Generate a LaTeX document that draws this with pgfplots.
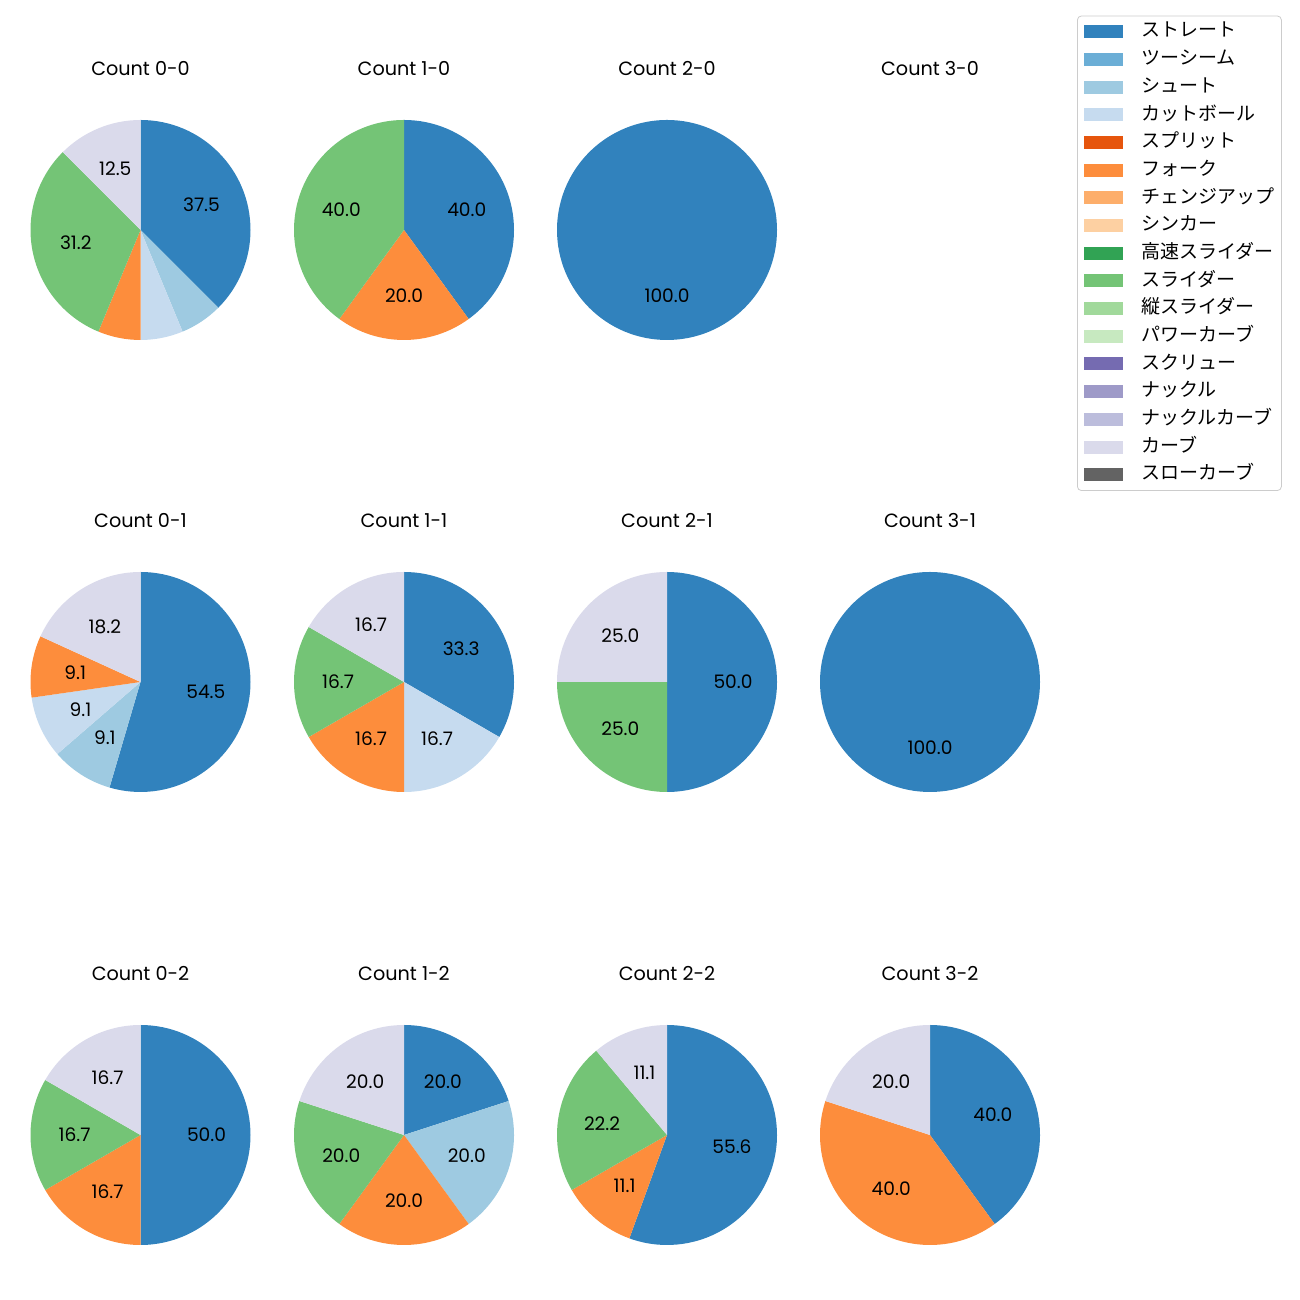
\documentclass[border=0pt]{standalone}
\usepackage{fontspec}
\setmainfont{Noto Sans CJK JP}
\newfontfamily\latinfont{Poppins}
\usepackage{pgfplots}
\pgfplotsset{compat=1.18}
\definecolor{c1}{HTML}{3182BD}
\definecolor{c2}{HTML}{6BAED6}
\definecolor{c3}{HTML}{9ECAE1}
\definecolor{c4}{HTML}{C6DBEF}
\definecolor{c5}{HTML}{E6550D}
\definecolor{c6}{HTML}{FD8D3C}
\definecolor{c7}{HTML}{FDAE6B}
\definecolor{c8}{HTML}{FDD0A2}
\definecolor{c9}{HTML}{31A354}
\definecolor{c10}{HTML}{74C476}
\definecolor{c11}{HTML}{A1D99B}
\definecolor{c12}{HTML}{C7E9C0}
\definecolor{c13}{HTML}{756BB1}
\definecolor{c14}{HTML}{9E9AC8}
\definecolor{c15}{HTML}{BCBDDC}
\definecolor{c16}{HTML}{DADAEB}
\definecolor{c17}{HTML}{636363}
\tikzset{lab/.style={font=\latinfont\fontsize{9.3}{10}\selectfont, inner sep=0pt},
  ttl/.style={font=\latinfont\fontsize{9.6}{11}\selectfont, inner sep=0pt}}
\def\nolab{n}
\newcommand\piechart[4]{%
\begin{axis}[at={(#1pt,#2pt)}, anchor=center, x=55pt, y=55pt,
  xmin=-1.2, xmax=1.2, ymin=-1.2, ymax=1.2, hide axis, clip=false, scale only axis]
\gdef\cum{0}%
\foreach \v/\c/\l in {#4}{%
 \pgfmathsetmacro\a{90-3.6*\cum}%
 \pgfmathsetmacro\b{\a-3.6*\v}%
 \pgfmathsetmacro\m{(\a+\b)/2}%
 \pgfmathsetmacro\xa{cos(\a)}%
 \pgfmathsetmacro\ya{sin(\a)}%
 \pgfmathsetmacro\xl{0.6*cos(\m)}%
 \pgfmathsetmacro\yl{0.6*sin(\m)}%
 \edef\temp{\noexpand\fill[\c] (axis cs:0,0) -- (axis cs:\xa,\ya) arc[start angle=\a, end angle=\b, radius=55pt] -- cycle;}%
 \temp
 \ifx\l\nolab\else
   \edef\temp{\noexpand\node[lab] at (axis cs:\xl,\yl) {\l};}\temp
 \fi
 \pgfmathsetmacro\nc{\cum+\v}\xdef\cum{\nc}%
}
\node[ttl] at (axis cs:0,1.4636) {#3};
\end{axis}}
\begin{document}
\begin{tikzpicture}
\useasboundingbox (0,0) rectangle (650pt,650pt);
% row 1
\piechart{70.25}{535}{Count 0-0}{37.5/c1/37.5, 6.25/c3/n, 6.25/c4/n, 6.25/c6/n, 31.25/c10/31.2, 12.5/c16/12.5}
\piechart{202}{535}{Count 1-0}{40/c1/40.0, 20/c6/20.0, 40/c10/40.0}
\piechart{333.5}{535}{Count 2-0}{100/c1/100.0}
\begin{axis}[at={(465pt,535pt)}, anchor=center, x=55pt, y=55pt,
  xmin=-1.2, xmax=1.2, ymin=-1.2, ymax=1.2, hide axis, clip=false, scale only axis]
\node[ttl] at (axis cs:0,1.4636) {Count 3-0};
\end{axis}
% row 2
\piechart{70.25}{309}{Count 0-1}{54.545/c1/54.5, 9.0909/c3/9.1, 9.0909/c4/9.1, 9.0909/c6/9.1, 18.182/c16/18.2}
\piechart{202}{309}{Count 1-1}{33.333/c1/33.3, 16.667/c4/16.7, 16.667/c6/16.7, 16.667/c10/16.7, 16.667/c16/16.7}
\piechart{333.5}{309}{Count 2-1}{50/c1/50.0, 25/c10/25.0, 25/c16/25.0}
\piechart{465}{309}{Count 3-1}{100/c1/100.0}
% row 3
\piechart{70.25}{82.5}{Count 0-2}{50/c1/50.0, 16.667/c6/16.7, 16.667/c10/16.7, 16.667/c16/16.7}
\piechart{202}{82.5}{Count 1-2}{20/c1/20.0, 20/c3/20.0, 20/c6/20.0, 20/c10/20.0, 20/c16/20.0}
\piechart{333.5}{82.5}{Count 2-2}{55.556/c1/55.6, 11.111/c6/11.1, 22.222/c10/22.2, 11.111/c16/11.1}
\piechart{465}{82.5}{Count 3-2}{40/c1/40.0, 40/c6/40.0, 20/c16/20.0}
% legend
\begin{axis}[at={(538.5pt,642.2pt)}, anchor=north west, hide axis, x=1pt, y=1pt,
  xmin=0, xmax=1, ymin=0, ymax=1, scale only axis,
  legend style={at={(0,1)}, anchor=north west, draw=black!20, rounded corners=2pt,
    font=\fontsize{9.5}{10}\selectfont, inner xsep=3.5pt, inner ysep=1pt,
    row sep=0pt, column sep=9pt,
    nodes={inner xsep=0pt, inner ysep=0pt, text height=9.5pt, text depth=4.34pt}},
  legend cell align=left,
  legend image code/.code={\fill[#1, sharp corners] (0pt,-3.25pt) rectangle (19.5pt,3.25pt);}]
\addlegendimage{fill=c1,draw=none}\addlegendentry{ストレート}
\addlegendimage{fill=c2,draw=none}\addlegendentry{ツーシーム}
\addlegendimage{fill=c3,draw=none}\addlegendentry{シュート}
\addlegendimage{fill=c4,draw=none}\addlegendentry{カットボール}
\addlegendimage{fill=c5,draw=none}\addlegendentry{スプリット}
\addlegendimage{fill=c6,draw=none}\addlegendentry{フォーク}
\addlegendimage{fill=c7,draw=none}\addlegendentry{チェンジアップ}
\addlegendimage{fill=c8,draw=none}\addlegendentry{シンカー}
\addlegendimage{fill=c9,draw=none}\addlegendentry{高速スライダー}
\addlegendimage{fill=c10,draw=none}\addlegendentry{スライダー}
\addlegendimage{fill=c11,draw=none}\addlegendentry{縦スライダー}
\addlegendimage{fill=c12,draw=none}\addlegendentry{パワーカーブ}
\addlegendimage{fill=c13,draw=none}\addlegendentry{スクリュー}
\addlegendimage{fill=c14,draw=none}\addlegendentry{ナックル}
\addlegendimage{fill=c15,draw=none}\addlegendentry{ナックルカーブ}
\addlegendimage{fill=c16,draw=none}\addlegendentry{カーブ}
\addlegendimage{fill=c17,draw=none}\addlegendentry{スローカーブ}
\end{axis}
\end{tikzpicture}
\end{document}
